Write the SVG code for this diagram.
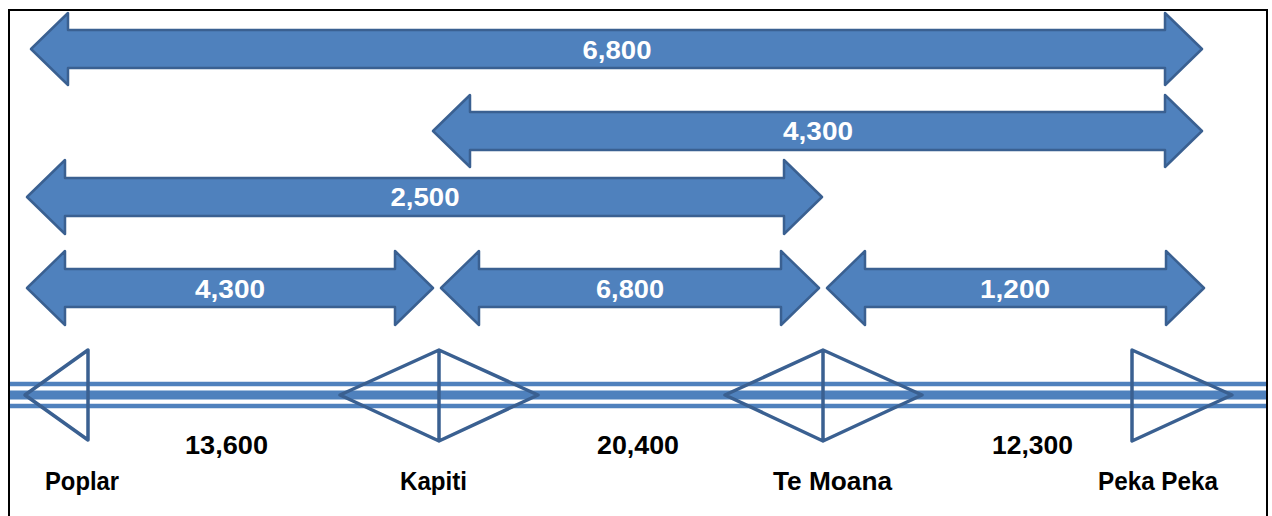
<svg xmlns="http://www.w3.org/2000/svg" width="1272" height="516" viewBox="0 0 1272 516">
<style>
.arr{fill:#4F81BD;stroke:#3A6091;stroke-width:2.5;stroke-linejoin:round}
.st{fill:none;stroke:#3A6091;stroke-width:3.5;stroke-linejoin:round}
.wt{font-family:"Liberation Sans",Arial,sans-serif;font-weight:bold;font-size:25px;fill:#ffffff;text-anchor:middle}
.bt{font-family:"Liberation Sans",Arial,sans-serif;font-weight:bold;font-size:25px;fill:#000000}
.trk{stroke:#4F81BD}
</style>
<rect x="9" y="10" width="1258" height="520" fill="#ffffff" stroke="#000000" stroke-width="2"/>
<g id="track">
<line class="trk" x1="10" y1="384" x2="1266" y2="384" stroke-width="4.5"/>
<line class="trk" x1="10" y1="395" x2="1266" y2="395" stroke-width="9"/>
<line class="trk" x1="10" y1="406" x2="1266" y2="406" stroke-width="4.5"/>
</g>
<g id="connectors">
<g id="span-poplar-pekapeka">
<path class="arr" d="M31,49 L68,13 L68,30 L1165,30 L1165,13 L1202,49 L1165,85 L1165,68 L68,68 L68,85 Z"/>
<text class="wt" x="617" y="59" textLength="69" lengthAdjust="spacingAndGlyphs">6,800</text>
</g>
<g id="span-kapiti-pekapeka">
<path class="arr" d="M433,131 L470,95 L470,112 L1165,112 L1165,95 L1202,131 L1165,167 L1165,150 L470,150 L470,167 Z"/>
<text class="wt" x="818" y="140" textLength="70" lengthAdjust="spacingAndGlyphs">4,300</text>
</g>
<g id="span-poplar-temoana">
<path class="arr" d="M27,197 L65,160 L65,178 L784,178 L784,160 L822,197 L784,234 L784,216 L65,216 L65,234 Z"/>
<text class="wt" x="425" y="206" textLength="69" lengthAdjust="spacingAndGlyphs">2,500</text>
</g>
<g id="span-poplar-kapiti">
<path class="arr" d="M27,288 L65,251 L65,269 L395,269 L395,251 L433,288 L395,325 L395,307 L65,307 L65,325 Z"/>
<text class="wt" x="230" y="298" textLength="70" lengthAdjust="spacingAndGlyphs">4,300</text>
</g>
<g id="span-kapiti-temoana">
<path class="arr" d="M441,288 L479,251 L479,269 L781,269 L781,251 L819,288 L781,325 L781,307 L479,307 L479,325 Z"/>
<text class="wt" x="630" y="298" textLength="68" lengthAdjust="spacingAndGlyphs">6,800</text>
</g>
<g id="span-temoana-pekapeka">
<path class="arr" d="M827,288 L865,251 L865,269 L1166,269 L1166,251 L1204,288 L1166,325 L1166,307 L865,307 L865,325 Z"/>
<text class="wt" x="1015" y="298" textLength="70" lengthAdjust="spacingAndGlyphs">1,200</text>
</g>
</g>
<g id="node-poplar">
<path class="st" d="M25,395 L88,350 L88,440 Z"/>
<text class="bt" x="45" y="490" textLength="74" lengthAdjust="spacingAndGlyphs">Poplar</text>
</g>
<g id="node-kapiti">
<path class="st" d="M340,395 L439,350 L538,395 L439,441 Z M439,350 L439,441"/>
<text class="bt" x="400" y="490" textLength="67" lengthAdjust="spacingAndGlyphs">Kapiti</text>
</g>
<g id="node-temoana">
<path class="st" d="M725,395 L823,350 L922,395 L823,441 Z M823,350 L823,441"/>
<text class="bt" x="773" y="490" textLength="119" lengthAdjust="spacingAndGlyphs">Te Moana</text>
</g>
<g id="node-pekapeka">
<path class="st" d="M1132,350 L1232,395 L1132,441 Z"/>
<text class="bt" x="1098" y="490" textLength="120" lengthAdjust="spacingAndGlyphs">Peka Peka</text>
</g>
<g id="volumes">
<text class="bt" x="185" y="454" textLength="83" lengthAdjust="spacingAndGlyphs">13,600</text>
<text class="bt" x="597" y="454" textLength="82" lengthAdjust="spacingAndGlyphs">20,400</text>
<text class="bt" x="992" y="454" textLength="81" lengthAdjust="spacingAndGlyphs">12,300</text>
</g>
</svg>
